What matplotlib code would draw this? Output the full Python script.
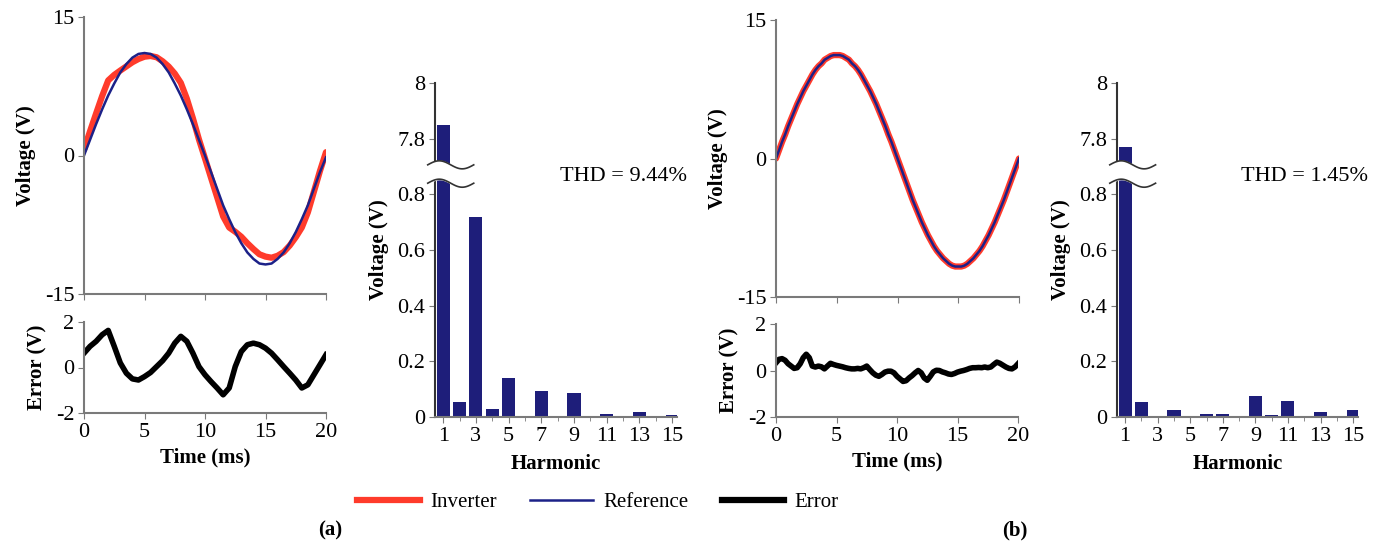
import matplotlib
matplotlib.use("Agg")
import matplotlib.pyplot as plt
from matplotlib.lines import Line2D
import numpy as np

plt.rcParams["font.family"] = ["Liberation Serif", "DejaVu Serif"]
plt.rcParams["axes.unicode_minus"] = False

# ---- (a) time-domain data, 0.5 ms step ----
time_a = np.arange(0, 20.01, 0.5)
ref_a = [0.0, 1.7, 3.4, 5.0, 6.5, 7.8, 9.0, 9.9, 10.6, 11.0, 11.1, 11.0, 10.6, 9.9, 9.0,
         7.8, 6.5, 5.0, 3.4, 1.7, 0.0,
         -1.8, -3.6, -5.4, -6.9, -8.3, -9.5, -10.5, -11.2, -11.7, -11.8, -11.7, -11.2,
         -10.5, -9.5, -8.3, -6.9, -5.4, -3.6, -1.8, -0.2]
err_a = [0.63, 0.93, 1.15, 1.44, 1.63, 0.93, 0.2, -0.25, -0.5, -0.55, -0.4, -0.22, 0.04,
         0.3, 0.63, 1.07, 1.37, 1.15, 0.63, 0.04, -0.32, -0.62, -0.9, -1.2, -0.9, 0.04,
         0.7, 1.0, 1.07, 1.0, 0.85, 0.63, 0.34, 0.04, -0.25, -0.55, -0.9, -0.76, -0.32,
         0.12, 0.56]
# inverter output = reference + error
inv_a = list(np.add(ref_a, err_a))

# ---- (b) time-domain data, 0.25 ms step ----
time_b = np.arange(0, 20.001, 0.25)
ref_b = [0.0, 0.9, 1.8, 2.6, 3.5, 4.3, 5.1, 5.9, 6.6, 7.3, 7.9, 8.5, 9.1, 9.6, 10.0, 10.3,
         10.7, 10.9, 11.1, 11.2, 11.2,
         11.2, 11.1, 10.9, 10.7, 10.3, 10.0, 9.6, 9.1, 8.5, 7.9, 7.3, 6.6, 5.9, 5.1, 4.3,
         3.5, 2.6, 1.8, 0.9, 0.0,
         -0.9, -1.8, -2.7, -3.6, -4.5, -5.3, -6.1, -6.9, -7.6, -8.3, -8.9, -9.5, -10.0,
         -10.4, -10.8, -11.1, -11.4, -11.6, -11.7, -11.7,
         -11.7, -11.6, -11.4, -11.1, -10.8, -10.4, -10.0, -9.5, -8.9, -8.3, -7.6, -6.9,
         -6.1, -5.3, -4.5, -3.6, -2.7, -1.8, -0.9, 0.0]
err_b = [0.33, 0.48, 0.51, 0.44, 0.29, 0.19, 0.09, 0.12, 0.29, 0.55, 0.70, 0.55, 0.19,
         0.15, 0.19, 0.16, 0.07, 0.19, 0.31, 0.26, 0.22, 0.19, 0.16, 0.12, 0.09, 0.07,
         0.07, 0.09, 0.07, 0.12, 0.19, 0.04, -0.10, -0.20, -0.25, -0.17, -0.07, -0.03,
         -0.03, -0.10, -0.25, -0.36, -0.47, -0.44, -0.32, -0.22, -0.10, 0.0, -0.10, -0.32,
         -0.42, -0.25, -0.06, 0.01, 0.0, -0.06, -0.10, -0.15, -0.17, -0.13, -0.07, -0.03,
         0.0, 0.04, 0.09, 0.12, 0.12, 0.13, 0.12, 0.15, 0.12, 0.15, 0.26, 0.36, 0.31,
         0.23, 0.15, 0.09, 0.07, 0.15, 0.29]
# at this scale the inverter trace lies on top of the reference
inv_b = ref_b

# ---- harmonic spectra ----
harmonics = np.arange(1, 16)
harm_a = [7.85, 0.055, 0.72, 0.027, 0.14, 0.005, 0.093, 0.004, 0.087, 0.004, 0.012,
          0.003, 0.018, 0.002, 0.007]
harm_b = [7.77, 0.053, 0.005, 0.026, 0.004, 0.010, 0.009, 0.003, 0.074, 0.008, 0.057,
          0.002, 0.019, 0.003, 0.026]
thd_a = "THD = 9.44%"
thd_b = "THD = 1.45%"

RED = "#ff3b2b"
BLUE = "#1c2188"
BAR = "#1e1e7a"
SPINE = "#7a7a7a"
W, H = 1374, 544


def box(l, t, r, b):
    return [l / W, 1 - b / H, (r - l) / W, (b - t) / H]


def style(ax):
    for s in ("top", "right"):
        ax.spines[s].set_visible(False)
    for s in ("left", "bottom"):
        ax.spines[s].set_color(SPINE)
        ax.spines[s].set_linewidth(1.5)
    ax.tick_params(direction="out", length=4, color=SPINE, labelsize=16, pad=3)


def fwd(v):
    v = np.asarray(v, float)
    return np.where(v <= 0.85, v, np.where(v >= 7.75, v - 6.8, 0.85 + (v - 0.85) * 0.1 / 6.9))


def inv(u):
    u = np.asarray(u, float)
    return np.where(u <= 0.85, u, np.where(u >= 0.95, u + 6.8, 0.85 + (u - 0.85) * 69.0))


def voltage_panel(fig, rect_v, rect_e, t, ref, inverter, err):
    ax = fig.add_axes(rect_v)
    ax.plot(t, inverter, color=RED, lw=4.5, solid_capstyle="round")
    ax.plot(t, ref, color=BLUE, lw=1.8)
    ax.set_xlim(0, 20)
    ax.set_ylim(-15, 15)
    ax.set_yticks([-15, 0, 15])
    ax.set_xticks([0, 5, 10, 15, 20])
    ax.set_xticklabels([])
    ax.set_ylabel("Voltage (V)", fontsize=15, fontweight="bold", labelpad=6)
    style(ax)

    ax2 = fig.add_axes(rect_e)
    ax2.plot(t, err, color="black", lw=4)
    ax2.set_xlim(0, 20)
    ax2.set_ylim(-2, 2)
    ax2.set_yticks([-2, 0, 2])
    ax2.set_xticks([0, 5, 10, 15, 20])
    ax2.set_xlabel("Time (ms)", fontsize=15, fontweight="bold", labelpad=4)
    ax2.set_ylabel("Error (V)", fontsize=15, fontweight="bold", labelpad=6)
    style(ax2)


def harmonic_panel(fig, rect, values, thd):
    ax = fig.add_axes(rect)
    ax.set_yscale("function", functions=(fwd, inv))
    ax.bar(harmonics, values, width=0.8, color=BAR, zorder=2)
    ax.set_xlim(0.5, 15.3)
    ax.set_ylim(0, 8)
    ax.set_yticks([0, 0.2, 0.4, 0.6, 0.8, 7.8, 8])
    ax.set_yticklabels(["0", "0.2", "0.4", "0.6", "0.8", "7.8", "8"])
    ax.set_xticks(harmonics[::2])
    ax.set_xticks(harmonics, minor=True)
    ax.set_xlabel("Harmonic", fontsize=15, fontweight="bold", labelpad=6)
    ax.set_ylabel("Voltage (V)", fontsize=15, fontweight="bold", labelpad=6)
    style(ax)
    ax.spines["left"].set_color("#333333")
    ax.tick_params(which="minor", direction="out", length=3, color=SPINE)
    ax.text(0.78, 0.72, thd, transform=ax.transAxes, fontsize=16, ha="center", va="center")

    # axis-break marks
    xs = np.linspace(-0.03, 0.16, 60)
    wave = 0.012 * np.sin((xs - xs[0]) / (xs[-1] - xs[0]) * 2 * np.pi)
    y_hi, y_lo = 0.755, 0.70
    ax.fill_between(xs, y_lo + wave, y_hi + wave, color="white", transform=ax.transAxes,
                    zorder=3, clip_on=False)
    for y0 in (y_hi, y_lo):
        ax.plot(xs, y0 + wave, color="#333333", lw=1.2, transform=ax.transAxes,
                zorder=4, clip_on=False)


fig = plt.figure(figsize=(W / 100, H / 100), dpi=100)

voltage_panel(fig, box(84, 17, 326, 294), box(84, 322, 326, 413), time_a, ref_a, inv_a, err_a)
harmonic_panel(fig, box(435, 83, 677, 417), harm_a, thd_a)
voltage_panel(fig, box(776, 20, 1019, 297), box(776, 324, 1018, 417), time_b, ref_b, inv_b, err_b)
harmonic_panel(fig, box(1117, 83, 1358, 417), harm_b, thd_b)

handles = [Line2D([], [], color=RED, lw=4.5),
           Line2D([], [], color=BLUE, lw=1.8),
           Line2D([], [], color="black", lw=4.5)]
fig.legend(handles, ["Inverter", "Reference", "Error"], loc="center",
           bbox_to_anchor=(598 / W, 1 - 502 / H), ncol=3, frameon=False, fontsize=15,
           handlelength=3.0, columnspacing=1.6, handletextpad=0.5)

fig.text(330 / W, 1 - 530 / H, "(a)", fontsize=15, fontweight="bold", ha="center", va="center")
fig.text(1015 / W, 1 - 530 / H, "(b)", fontsize=15, fontweight="bold", ha="center", va="center")

fig.savefig("out.png", dpi=100)
